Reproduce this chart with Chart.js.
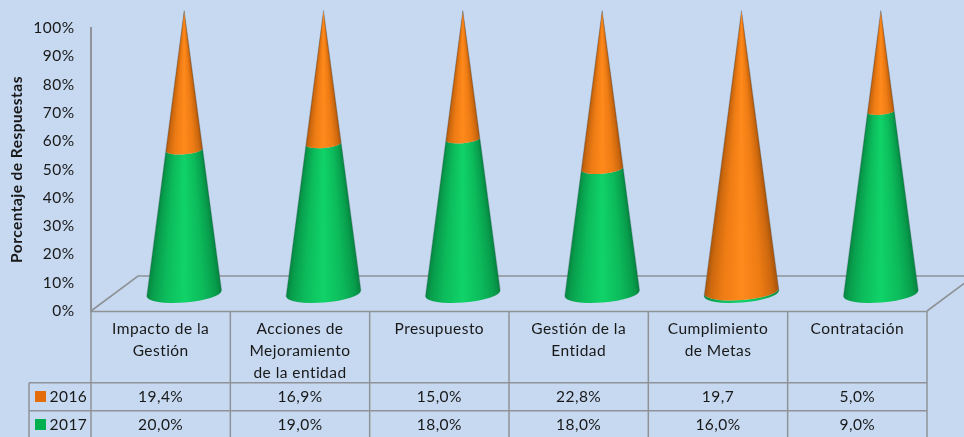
<!DOCTYPE html>
<html>
<head>
<meta charset="utf-8">
<style>
html,body{margin:0;padding:0;background:#C6D9F0;overflow:hidden}
canvas{display:block}
</style>
<script src="https://cdn.jsdelivr.net/npm/chart.js@4/dist/chart.umd.js"></script>
</head>
<body>
<canvas id="c" width="964" height="437"></canvas>
<script>
const categories = [
  ["Impacto de la", "Gestión"],
  ["Acciones de", "Mejoramiento", "de la entidad"],
  ["Presupuesto"],
  ["Gestión de la", "Entidad"],
  ["Cumplimiento", "de Metas"],
  ["Contratación"]
];
const values2016 = [0.194, 0.169, 0.15, 0.228, 19.7, 0.05];
const values2017 = [0.2, 0.19, 0.18, 0.18, 0.16, 0.09];
const labels2016 = ["19,4%", "16,9%", "15,0%", "22,8%", "19,7", "5,0%"];
const labels2017 = ["20,0%", "19,0%", "18,0%", "18,0%", "16,0%", "9,0%"];
const share2016 = values2016.map((v, i) => v / (v + values2017[i]) * 100);
const share2017 = values2017.map((v, i) => v / (v + values2016[i]) * 100);

const FONT = 'Lato, "Open Sans", sans-serif';
const TEXT = '#181818';
const LINE = '#8f9296';
const DX = 47, DY = 35;            // depth of the 3D floor
const R_BASE = 37.5, RY_BASE = 9;  // cone base ellipse
const TILT = -0.08;

// colour from one flank through the centre line to the other flank
const shades = {
  green: ['#058440', '#089e4c', '#0cbb5b', '#10d368', '#0cbb5b', '#089e4c', '#058440'],
  orange: ['#a5540c', '#cd680e', '#ee7c14', '#ff8a1c', '#ee7c14', '#cd680e', '#a5540c']
};
const shadePos = [0, 0.08, 0.25, 0.5, 0.75, 0.92, 1];

// paints the cone one pixel row at a time, inside the current clip
function fillCone(ctx, ax, ay, h, colors, yFrom, yTo) {
  for (let y = Math.floor(yFrom); y < Math.ceil(yTo); y++) {
    const r = Math.max(0.2, R_BASE * (y + 0.5 - ay) / h);
    const g = ctx.createLinearGradient(ax - r, 0, ax + r, 0);
    colors.forEach((c, i) => g.addColorStop(shadePos[i], c));
    ctx.fillStyle = g;
    ctx.fillRect(ax - r - 2, y, 2 * r + 4, 1);
  }
}

const scene = {
  id: 'scene',
  beforeDraw(chart) {
    chart.ctx.letterSpacing = '0.45px';
  },
  beforeDatasetsDraw(chart) {
    const { ctx, chartArea: a } = chart;
    ctx.save();
    ctx.strokeStyle = LINE;
    ctx.lineWidth = 1.6;
    ctx.beginPath();
    ctx.moveTo(a.left, a.bottom);
    ctx.lineTo(a.left + DX, a.bottom - DY);
    ctx.lineTo(a.right + DX, a.bottom - DY);
    ctx.lineTo(a.right, a.bottom);
    ctx.stroke();
    ctx.restore();
  },
  afterDatasetsDraw(chart) {
    const { ctx, scales } = chart;
    const y100 = scales.y.getPixelForValue(100), y0 = scales.y.getPixelForValue(0);
    const h = y0 - y100;
    chart.data.datasets.forEach((ds, di) => {
      chart.getDatasetMeta(di).data.forEach(el => {
        const ax = el.x + DX / 2, ay = y100 - DY / 2;
        const yLow = el.base - DY / 2, yTop = el.y - DY / 2;
        const kLow = (yLow - ay) / h, kTop = (yTop - ay) / h;
        ctx.save();
        ctx.beginPath();
        ctx.ellipse(ax, yLow, R_BASE * kLow, RY_BASE * kLow, TILT, Math.PI, 0, true);
        if (kTop > 0.001) {
          ctx.ellipse(ax, yTop, R_BASE * kTop, RY_BASE * kTop, TILT, 0, Math.PI, false);
        } else {
          ctx.lineTo(ax, ay);
        }
        ctx.closePath();
        ctx.clip();
        const pad = RY_BASE + 5;
        fillCone(ctx, ax, ay, h, shades[ds.shade], yTop - pad, yLow + pad);
        ctx.restore();
      });
    });
    // soft outline of each cone's flanks
    ctx.save();
    chart.getDatasetMeta(0).data.forEach(el => {
      const ax = el.x + DX / 2, ay = y100 - DY / 2, by = y0 - DY / 2;
      ctx.strokeStyle = 'rgba(70,80,90,0.35)';
      ctx.lineWidth = 0.8;
      ctx.beginPath();
      ctx.moveTo(ax - R_BASE, by + 3);
      ctx.lineTo(ax, ay);
      ctx.lineTo(ax + R_BASE, by - 3);
      ctx.stroke();
    });
    ctx.restore();
    drawTable(chart);
  }
};

function drawTable(chart) {
  const { ctx, chartArea: a, scales } = chart;
  const H = chart.height;
  const rowA = 382.7, rowB = 410.7, keyLeft = 29;
  const cell = scales.x.getPixelForValue(1) - scales.x.getPixelForValue(0);
  ctx.save();
  ctx.strokeStyle = LINE;
  ctx.lineWidth = 1.5;
  ctx.beginPath();
  ctx.moveTo(a.left, a.bottom + 0.5); ctx.lineTo(a.right, a.bottom + 0.5);
  ctx.moveTo(keyLeft, rowA); ctx.lineTo(a.right, rowA);
  ctx.moveTo(keyLeft, rowB); ctx.lineTo(a.right, rowB);
  ctx.moveTo(keyLeft, rowA); ctx.lineTo(keyLeft, H);
  for (let i = 0; i <= categories.length; i++) {
    const x = a.left + i * cell;
    ctx.moveTo(x, a.bottom); ctx.lineTo(x, H);
  }
  ctx.stroke();

  ctx.fillStyle = TEXT;
  ctx.textBaseline = 'middle';
  ctx.textAlign = 'center';
  ctx.font = '15.5px ' + FONT;
  categories.forEach((lines, i) => {
    const x = scales.x.getPixelForValue(i);
    lines.forEach((t, k) => ctx.fillText(t, x, 328.5 + k * 22));
    ctx.fillText(labels2016[i], x, 397);
    ctx.fillText(labels2017[i], x, 425);
  });
  ctx.textAlign = 'left';
  ctx.fillText('2016', 49.5, 397);
  ctx.fillText('2017', 49.5, 425);
  ctx.fillStyle = '#E46C0A';
  ctx.fillRect(35, 391, 11, 11);
  ctx.fillStyle = '#00B050';
  ctx.fillRect(35, 419, 11, 11);
  ctx.restore();
}

new Chart(document.getElementById('c'), {
  type: 'bar',
  data: {
    labels: categories,
    datasets: [
      { label: '2017', data: share2017, shade: 'green', backgroundColor: 'transparent', borderWidth: 0 },
      { label: '2016', data: share2016, shade: 'orange', backgroundColor: 'transparent', borderWidth: 0 }
    ]
  },
  options: {
    responsive: false,
    animation: false,
    layout: { padding: { left: 0, top: 28, right: 37, bottom: 126 } },
    plugins: { legend: { display: false }, tooltip: { enabled: false } },
    scales: {
      x: { display: false, stacked: true },
      y: {
        stacked: true, min: 0, max: 100,
        afterFit(s) { s.width = 91; },
        grid: { display: false, drawTicks: false },
        border: { display: true, color: LINE, width: 2 },
        ticks: {
          stepSize: 10, padding: 16.5, color: TEXT, font: { family: FONT, size: 15.5 },
          callback: v => v + '%'
        },
        title: {
          display: true, text: 'Porcentaje de Respuestas', color: TEXT,
          font: { family: FONT, size: 15.5, weight: 'bold' },
          padding: { top: 8, bottom: 0 }
        }
      }
    }
  },
  plugins: [scene]
});
</script>
</body>
</html>
